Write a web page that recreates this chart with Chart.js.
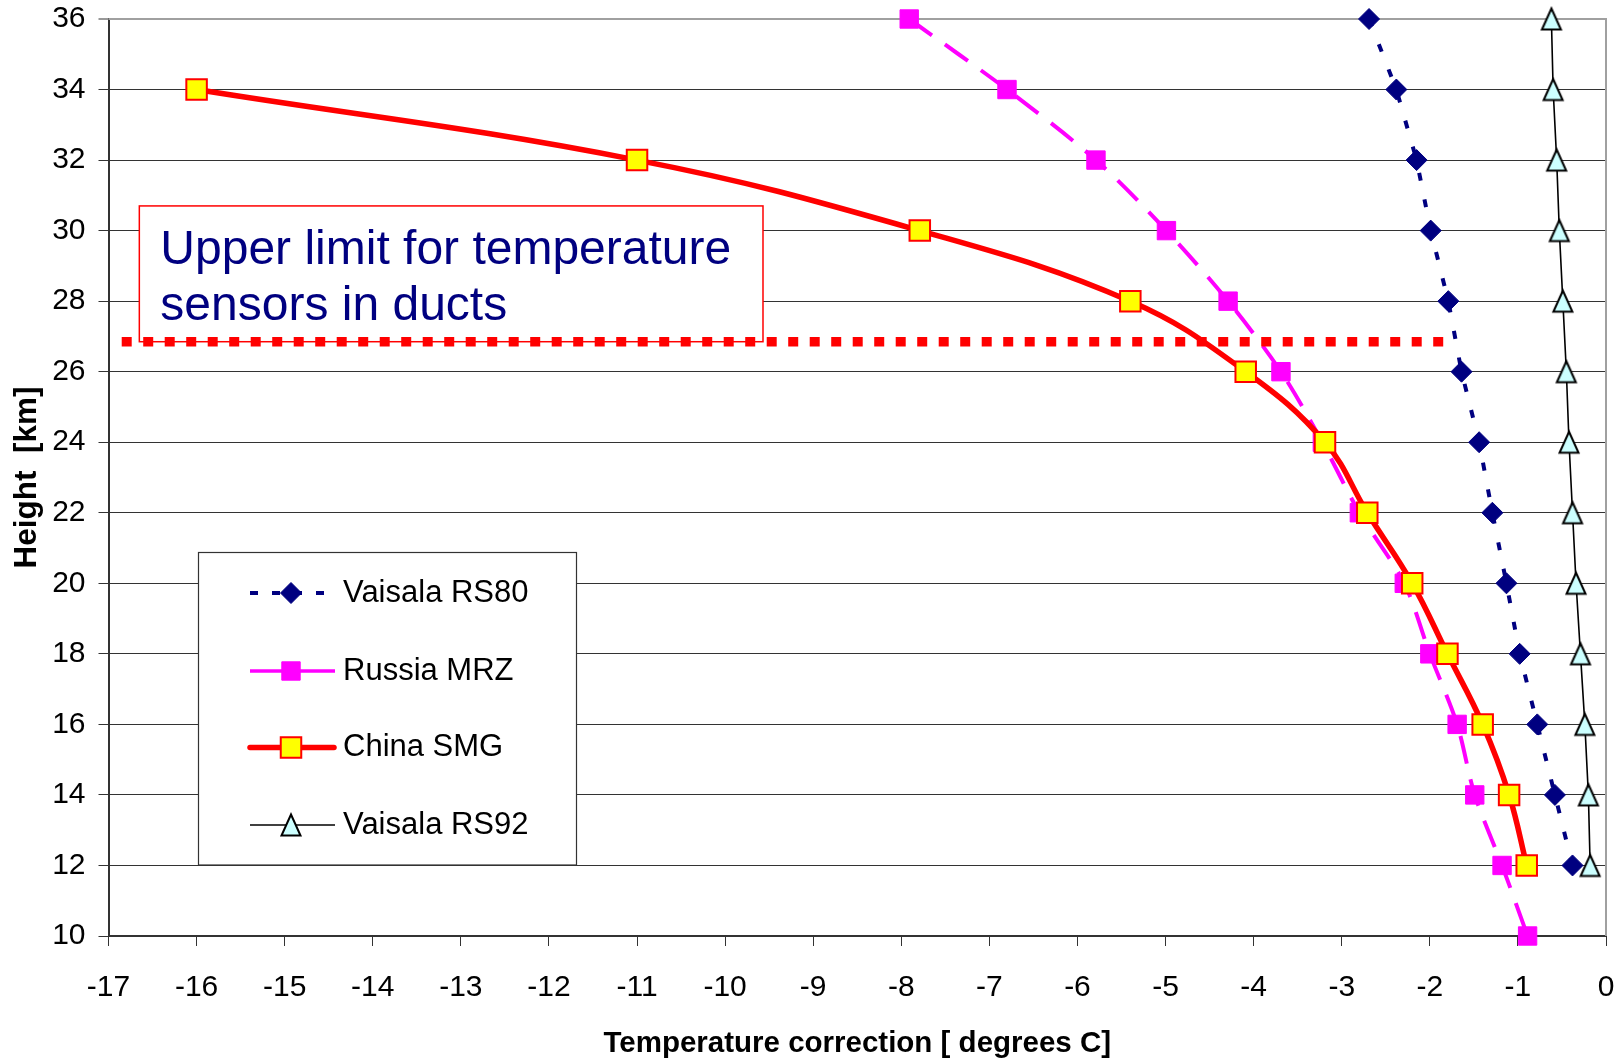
<!DOCTYPE html>
<html><head><meta charset="utf-8">
<script src="https://cdn.jsdelivr.net/npm/chart.js@4/dist/chart.umd.min.js"></script>
<style>html,body{margin:0;padding:0;background:#fff;}canvas{display:block;}</style>
</head><body>
<canvas id="c" width="1617" height="1062"></canvas>
<script>
// ---- data ----
const seriesNames = ["Vaisala RS80", "Russia MRZ", "China SMG", "Vaisala RS92"];
const rs80Heights = [36, 34, 32, 30, 28, 26, 24, 22, 20, 18, 16, 14, 12];
const rs80Values  = [-2.69, -2.38, -2.15, -1.99, -1.79, -1.64, -1.44, -1.29, -1.13, -0.98, -0.78, -0.58, -0.38];
const mrzHeights  = [36, 34, 32, 30, 28, 26, 24, 22, 20, 18, 16, 14, 12, 10];
const mrzValues   = [-7.91, -6.80, -5.79, -4.99, -4.29, -3.69, -3.22, -2.80, -2.29, -2.00, -1.69, -1.49, -1.18, -0.89];
const smgHeights  = [34, 32, 30, 28, 26, 24, 22, 20, 18, 16, 14, 12];
const smgValues   = [-16.0, -11.0, -7.79, -5.40, -4.09, -3.19, -2.71, -2.20, -1.80, -1.40, -1.10, -0.90];
const rs92Heights = [36, 34, 32, 30, 28, 26, 24, 22, 20, 18, 16, 14, 12];
const rs92Values  = [-0.62, -0.60, -0.56, -0.53, -0.49, -0.45, -0.42, -0.38, -0.34, -0.29, -0.24, -0.20, -0.18];
const limitXs = [-16.85, -1.72];
const limitYs = [26.85, 26.85];
const noteXs = [-16.65, -9.57];
const noteYs = [26.85, 30.70];
const noteLines = ["Upper limit for temperature", "sensors in ducts"];
const xMin = -17, xMax = 0, xStep = 1;
const yMin = 10, yMax = 36, yStep = 2;
const xTitle = "Temperature correction [ degrees C]";
const yTitle = "Height  [km]";

const FONT = "'Liberation Sans', Arial, Helvetica, sans-serif";
const pts = (xs, ys) => xs.map((v, i) => ({x: v, y: ys[i]}));

function triangleImage() {
  const c = document.createElement('canvas');
  c.width = 24; c.height = 26;
  const g = c.getContext('2d');
  g.beginPath();
  g.moveTo(12, 2.5); g.lineTo(21.5, 23.5); g.lineTo(2.5, 23.5); g.closePath();
  g.fillStyle = '#CCFFFF'; g.fill();
  g.lineWidth = 2; g.strokeStyle = '#000'; g.lineJoin = 'miter'; g.stroke();
  return c;
}
const tri = triangleImage();

function drawMarker(ctx, ds, x, y) {
  const r = ds.pointRadius;
  ctx.save();
  ctx.setLineDash([]);
  ctx.fillStyle = ds.pointBackgroundColor;
  ctx.strokeStyle = ds.pointBorderColor;
  ctx.lineWidth = ds.pointBorderWidth;
  if (ds.pointStyle === 'rectRot') {
    ctx.beginPath(); ctx.moveTo(x - r, y); ctx.lineTo(x, y - r); ctx.lineTo(x + r, y); ctx.lineTo(x, y + r); ctx.closePath();
    ctx.fill(); ctx.stroke();
  } else if (ds.pointStyle === 'rect') {
    const s = Math.SQRT1_2 * r;
    ctx.beginPath(); ctx.rect(x - s, y - s, 2 * s, 2 * s); ctx.fill(); ctx.stroke();
  } else if (ds.pointStyle instanceof HTMLCanvasElement) {
    ctx.drawImage(ds.pointStyle, x - ds.pointStyle.width / 2, y - ds.pointStyle.height / 2);
  }
  ctx.restore();
}

const framePlugin = {
  id: 'frame',
  beforeDatasetsDraw(chart) {
    const {ctx, chartArea: a, scales: {x, y}} = chart;
    ctx.save();
    ctx.strokeStyle = '#a0a0a0'; ctx.lineWidth = 2;
    ctx.beginPath(); ctx.moveTo(a.left, a.top); ctx.lineTo(a.right, a.top); ctx.lineTo(a.right, a.bottom); ctx.stroke();
    const l = x.getPixelForValue(noteXs[0]), r = x.getPixelForValue(noteXs[1]);
    const t = y.getPixelForValue(noteYs[1]), b = y.getPixelForValue(noteYs[0]);
    ctx.fillStyle = '#fff'; ctx.fillRect(l, t, r - l, b - t);
    ctx.strokeStyle = '#FF0000'; ctx.lineWidth = 1.5; ctx.strokeRect(l, t, r - l, b - t);
    ctx.fillStyle = '#000080'; ctx.font = "48px " + FONT; ctx.textBaseline = 'alphabetic'; ctx.textAlign = 'left';
    ctx.fillText(noteLines[0], l + 21, t + 58);
    ctx.fillText(noteLines[1], l + 21, t + 114);
    ctx.restore();
  },
  afterDraw(chart) {
    const ctx = chart.ctx;
    const bx = 198.5, by = 552.5, bw = 378, bh = 312.5;
    ctx.save();
    ctx.fillStyle = '#fff'; ctx.fillRect(bx, by, bw, bh);
    ctx.strokeStyle = '#333'; ctx.lineWidth = 1.2; ctx.strokeRect(bx, by, bw, bh);
    const rows = [593, 671, 747.5, 825];
    for (let i = 0; i < 4; i++) {
      const ds = chart.data.datasets[i];
      const yy = rows[i];
      ctx.save();
      ctx.strokeStyle = ds.borderColor; ctx.lineWidth = i === 1 ? 3.5 : ds.borderWidth;
      ctx.lineCap = i === 2 ? 'round' : 'butt';
      ctx.setLineDash(i === 0 ? [8, 14] : []);
      const x0 = 250, x1 = i === 2 ? 334 : 335;
      ctx.beginPath(); ctx.moveTo(x0, yy); ctx.lineTo(x1, yy); ctx.stroke();
      ctx.restore();
      drawMarker(ctx, ds, 291, yy);
      ctx.fillStyle = '#000'; ctx.font = "31px " + FONT; ctx.textBaseline = 'middle'; ctx.textAlign = 'left';
      ctx.fillText(seriesNames[i], 343, yy);
    }
    ctx.restore();
  }
};

function zeroPad(s) { s.paddingTop = 0; s.paddingBottom = 0; s.paddingLeft = 0; s.paddingRight = 0; }

new Chart(document.getElementById('c'), {
  type: 'scatter',
  data: {
    datasets: [
      {label: seriesNames[0], data: pts(rs80Values, rs80Heights), showLine: true,
       borderColor: '#000080', borderWidth: 4, borderDash: [8, 19],
       pointStyle: 'rectRot', pointRadius: 10.5, pointBackgroundColor: '#000080', pointBorderColor: '#000080', pointBorderWidth: 1,
       tension: 0, order: 4, clip: false},
      {label: seriesNames[1], data: pts(mrzValues, mrzHeights), showLine: true,
       borderColor: '#FF00FF', borderWidth: 4, borderDash: [28, 16],
       pointStyle: 'rect', pointRadius: 13, pointBackgroundColor: '#FF00FF', pointBorderColor: '#FF00FF', pointBorderWidth: 1,
       tension: 0.3, order: 3, clip: false},
      {label: seriesNames[2], data: pts(smgValues, smgHeights), showLine: true,
       borderColor: '#FF0000', borderWidth: 5.5,
       pointStyle: 'rect', pointRadius: 14.5, pointBackgroundColor: '#FFFF00', pointBorderColor: '#FF0000', pointBorderWidth: 2,
       tension: 0.4, order: 2, clip: false},
      {label: seriesNames[3], data: pts(rs92Values, rs92Heights), showLine: true,
       borderColor: '#000000', borderWidth: 1.6,
       pointStyle: tri, pointRadius: 12, pointBackgroundColor: '#CCFFFF', pointBorderColor: '#000', pointBorderWidth: 2,
       tension: 0, order: 1, clip: false},
      {label: 'limit', data: pts(limitXs, limitYs), showLine: true,
       borderColor: '#FF0000', borderWidth: 9.5, borderDash: [10, 11.5], borderCapStyle: 'butt',
       pointRadius: 0, order: 0, clip: false}
    ]
  },
  options: {
    responsive: false, animation: false, devicePixelRatio: 1, events: [],
    layout: {autoPadding: false, padding: {top: 19, right: 11, left: 0, bottom: 0}},
    plugins: {legend: {display: false}, tooltip: {enabled: false}},
    scales: {
      x: {
        type: 'linear', min: xMin, max: xMax,
        afterFit: s => { s.height = 126; zeroPad(s); },
        ticks: {stepSize: xStep, color: '#000', font: {family: FONT, size: 30}, padding: 24, maxRotation: 0, autoSkip: false},
        grid: {drawOnChartArea: false, drawTicks: true, tickLength: 10, tickColor: '#333', tickWidth: 1},
        border: {color: '#333', width: 2},
        title: {display: true, text: xTitle, color: '#000', font: {family: FONT, size: 29.5, weight: 'bold'}, padding: {top: 0, bottom: 0}}
      },
      y: {
        type: 'linear', min: yMin, max: yMax,
        afterFit: s => { s.width = 108.5; zeroPad(s); },
        ticks: {stepSize: yStep, color: '#000', font: {family: FONT, size: 30}, padding: 13},
        grid: {color: c => (c.tick && c.tick.value === yMax) ? '#a0a0a0' : '#333',
               lineWidth: c => (c.tick && c.tick.value === yMax) ? 2 : 1,
               tickLength: 10, tickColor: '#333', tickWidth: 1},
        border: {color: '#333', width: 2},
        title: {display: true, text: yTitle, color: '#000', font: {family: FONT, size: 31.5, weight: 'bold'}, padding: {top: 8, bottom: 0}}
      }
    }
  },
  plugins: [framePlugin]
});
</script>
</body></html>
